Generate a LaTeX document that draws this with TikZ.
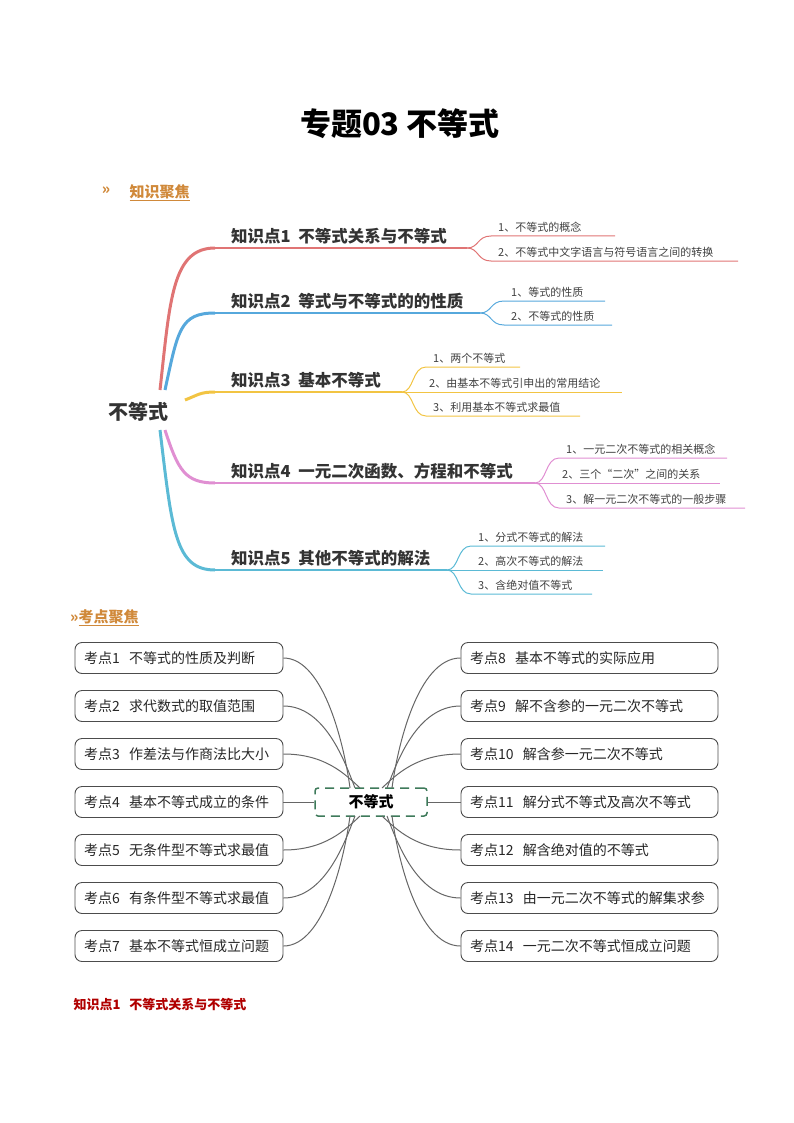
\documentclass[tikz,border=0pt]{standalone}
\usepackage{fontspec}
\setmainfont{Noto Sans CJK SC}
\newfontfamily\cjk{Noto Sans CJK SC}
\definecolor{hdr}{HTML}{D0893A}
\definecolor{cR}{HTML}{E07474}
\definecolor{cB}{HTML}{56A8DC}
\definecolor{cY}{HTML}{F2C443}
\definecolor{cP}{HTML}{E08FD2}
\definecolor{cC}{HTML}{5BBAD5}
\definecolor{grn}{HTML}{3E7A5A}
\definecolor{dred}{HTML}{B00000}
\tikzset{
 main/.style={font=\fontsize{16.5}{18}\selectfont\bfseries, text=black!80, anchor=south west, inner sep=1pt},
 sub/.style={font=\fontsize{11}{12}\selectfont, text=black!75, anchor=south west, inner sep=1pt},
 kbox/.style={draw=black!70, rounded corners=7pt, line width=0.9pt, minimum width=208pt, minimum height=31pt, font=\fontsize{14}{15}\selectfont, text=black!85, anchor=center, align=left, inner xsep=9pt},
 conn/.style={draw=black!60, line width=1pt},
}
\begin{document}
\begin{tikzpicture}[x=1pt,y=-1pt]
\useasboundingbox (0,0) rectangle (794,1123);
\node (title) at (400,124) {\fontsize{31}{34}\selectfont\bfseries 专题03\ 不等式};
\node[text=hdr, font=\fontsize{15}{16}\selectfont\bfseries] (i1) at (106,191) {»};
\node[text=hdr, font=\fontsize{15}{16}\selectfont\bfseries, anchor=west] (h1) at (126,193) {\underline{知识聚焦}};
\node[text=hdr, font=\fontsize{15}{16}\selectfont\bfseries, anchor=west, inner sep=0pt] (h2) at (70,618) {»\underline{考点聚焦}};

\node[font=\fontsize{20}{22}\selectfont\bfseries, text=black!80] (root) at (138,412) {不等式};

\foreach \c/\y/\xe/\lab [count=\i] in {cR/248/467/{知识点1\ \ 不等式关系与不等式}, cB/313/480/{知识点2\ \ 等式与不等式的的性质}, cY/392/402/{知识点3\ \ 基本不等式}, cP/483/535/{知识点4\ \ 一元二次函数、方程和不等式}, cC/570/447/{知识点5\ \ 其他不等式的解法}}{
 \node[main] (m\i) at (230,\y-3) {\lab};
}
\draw[cR, line width=3pt] (160,390) .. controls (170,300) and (172,248) .. (215,248);
\draw[cR, line width=1.2pt] (215,248) -- (467,248);
\draw[cB, line width=3pt] (165,390) .. controls (178,330) and (180,313) .. (215,313);
\draw[cB, line width=1.2pt] (215,313) -- (480,313);
\draw[cY, line width=3pt] (185,400) .. controls (198,395) and (200,392) .. (215,392);
\draw[cY, line width=1.2pt] (215,392) -- (402,392);
\draw[cP, line width=3pt] (165,430) .. controls (178,470) and (185,483) .. (215,483);
\draw[cP, line width=1.2pt] (215,483) -- (535,483);
\draw[cC, line width=3pt] (160,430) .. controls (172,530) and (175,570) .. (215,570);
\draw[cC, line width=1.2pt] (215,570) -- (447,570);

\newcommand{\subb}[6]{% color, x0, y0, ys, xend, label
 \draw[#1, line width=1pt] (#2,#3) .. controls (#2+12,#3) and (#2+10,#4) .. (#2+24,#4) -- (#5,#4);
 \node[sub] at (#2+30,#4-2) {#6};}
\subb{cR}{467}{248}{236}{615}{1、不等式的概念}
\subb{cR}{467}{248}{261}{738}{2、不等式中文字语言与符号语言之间的转换}
\subb{cB}{480}{313}{301}{605}{1、等式的性质}
\subb{cB}{480}{313}{325}{612}{2、不等式的性质}
\subb{cY}{402}{392}{367}{520}{1、两个不等式}
\draw[cY, line width=1pt] (402,392) -- (622,392);
\node[sub] at (428,390) {2、由基本不等式引申出的常用结论};
\subb{cY}{402}{392}{416}{580}{3、利用基本不等式求最值}
\subb{cP}{535}{483}{458}{727}{1、一元二次不等式的相关概念}
\draw[cP, line width=1pt] (535,483) -- (720,483);
\node[sub] at (561,481) {2、三个“二次”之间的关系};
\subb{cP}{535}{483}{508}{745}{3、解一元二次不等式的一般步骤}
\subb{cC}{447}{570}{546}{605}{1、分式不等式的解法}
\draw[cC, line width=1pt] (447,570) -- (603,570);
\node[sub] at (477,568) {2、高次不等式的解法};
\subb{cC}{447}{570}{594}{592}{3、含绝对值不等式}

\node[draw=grn, dash pattern=on 9pt off 6pt, line width=1.5pt, rounded corners=3pt, minimum width=112pt, minimum height=28pt, font=\fontsize{15}{16}\selectfont\bfseries] (c) at (371,802) {不等式};
\foreach \t [count=\i] in {不等式的性质及判断, 求代数式的取值范围, 作差法与作商法比大小, 基本不等式成立的条件, 无条件型不等式求最值, 有条件型不等式求最值, 基本不等式恒成立问题}{
 \node[kbox, text width=190pt] (L\i) at (179,610+48*\i) {考点\i\ \ \t};
}
\foreach \t [count=\i] in {基本不等式的实际应用, 解不含参的一元二次不等式, 解含参一元二次不等式, 解分式不等式及高次不等式, 解含绝对值的不等式, 由一元二次不等式的解集求参, 一元二次不等式恒成立问题}{
 \pgfmathtruncatemacro{\k}{\i+7}
 \node[kbox, text width=239pt] (R\i) at (589.5,610+48*\i) {考点\k\ \ \t};
}
\foreach \i/\ey/\cy/\dx in {1/788/750/0,2/788/762/5,3/788/774/10,5/816/830/10,6/816/842/5,7/816/854/0}{
 \draw[conn] (L\i.east) .. controls (325,610+48*\i) and (345,\cy) .. (350+\dx,\ey);
 \draw[conn] (R\i.west) .. controls (417,610+48*\i) and (397,\cy) .. (392-\dx,\ey);
}
\draw[conn] (L4.east) -- (c.west);
\draw[conn] (R4.west) -- (c.east);

\node[anchor=west, text=dred, font=\fontsize{13}{14}\selectfont\bfseries] (kp) at (70,1004) {知识点1\ \ \ 不等式关系与不等式};
\end{tikzpicture}
\end{document}
